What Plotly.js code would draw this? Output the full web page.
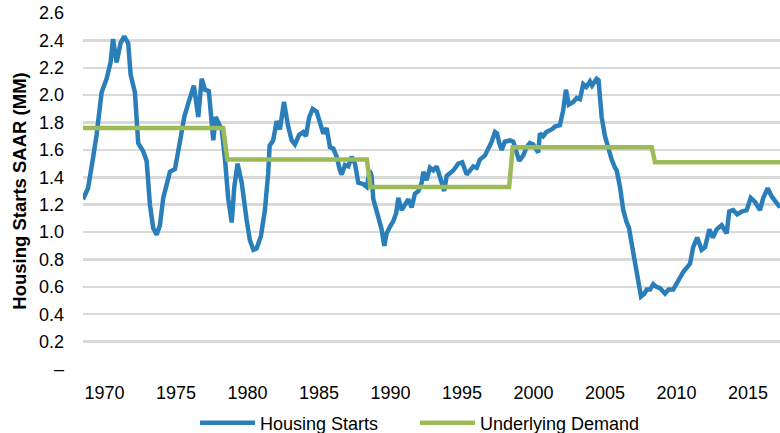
<!DOCTYPE html>
<html>
<head>
<meta charset="utf-8">
<script src="https://cdn.plot.ly/plotly-3.0.1.min.js"></script>
<style>
  html, body { margin: 0; padding: 0; background: #fff; }
  #chart { width: 780px; height: 433px; }
</style>
</head>
<body>
<div id="chart"></div>
<script>
// Housing starts (SAAR, millions), by decimal year
const startDates = [
  1968.5, 1968.85, 1969.2, 1969.45, 1969.8, 1970.15, 1970.43, 1970.6, 1970.85, 1971.13,
  1971.38, 1971.66, 1971.83, 1972.13, 1972.36, 1972.71, 1972.95, 1973.18, 1973.41, 1973.65,
  1973.88, 1974.11, 1974.58, 1974.93, 1975.28, 1975.58, 1975.86, 1976.25, 1976.56, 1976.8,
  1977.03, 1977.3, 1977.61, 1977.78, 1977.96, 1978.2, 1978.43, 1978.66, 1978.9, 1979.08,
  1979.31, 1979.6, 1979.94, 1980.17, 1980.41, 1980.64, 1980.94, 1981.22, 1981.45, 1981.55,
  1981.8, 1982.04, 1982.27, 1982.55, 1982.85, 1983.09, 1983.32, 1983.62, 1983.9, 1984.09,
  1984.32, 1984.56, 1984.84, 1985.07, 1985.3, 1985.54, 1985.77, 1986.0, 1986.24, 1986.47,
  1986.59, 1986.82, 1987.05, 1987.29, 1987.52, 1987.75, 1988.1, 1988.34, 1988.55, 1988.68,
  1988.8, 1989.15, 1989.38, 1989.57, 1989.73, 1989.97, 1990.2, 1990.4, 1990.55, 1990.78,
  1991.06, 1991.25, 1991.48, 1991.71, 1991.95, 1992.18, 1992.3, 1992.53, 1992.76, 1993.0,
  1993.23, 1993.46, 1993.76, 1993.93, 1994.16, 1994.39, 1994.74, 1995.02, 1995.33, 1995.56,
  1995.79, 1996.03, 1996.26, 1996.61, 1996.84, 1997.08, 1997.31, 1997.45, 1997.61, 1997.78,
  1998.0, 1998.36, 1998.59, 1998.83, 1999.0, 1999.29, 1999.52, 1999.75, 1999.99, 2000.33,
  2000.45, 2000.68, 2000.9, 2001.27, 2001.5, 2001.85, 2002.08, 2002.27, 2002.47, 2002.78,
  2003.02, 2003.25, 2003.48, 2003.7, 2003.95, 2004.1, 2004.42, 2004.55, 2004.77, 2005.0,
  2005.23, 2005.47, 2005.7, 2005.82, 2006.05, 2006.28, 2006.52, 2006.68, 2006.91, 2007.1,
  2007.33, 2007.52, 2007.75, 2007.92, 2008.15, 2008.38, 2008.6, 2008.85, 2009.2, 2009.45,
  2009.77, 2010.13, 2010.48, 2010.95, 2011.17, 2011.45, 2011.76, 2012.0, 2012.3, 2012.55,
  2012.81, 2013.16, 2013.51, 2013.69, 2013.97, 2014.25, 2014.56, 2014.91, 2015.19, 2015.49,
  2015.84, 2016.07, 2016.38, 2016.66, 2017.0, 2017.24
];
const starts = [
  1.24, 1.32, 1.54, 1.71, 2.02, 2.12, 2.24, 2.41, 2.24, 2.38,
  2.43, 2.38, 2.15, 2.02, 1.65, 1.59, 1.52, 1.20, 1.03, 0.98,
  1.05, 1.25, 1.44, 1.46, 1.66, 1.84, 1.94, 2.07, 1.84, 2.12,
  2.04, 2.03, 1.67, 1.84, 1.80, 1.75, 1.53, 1.24, 1.07, 1.33,
  1.50, 1.36, 1.09, 0.94, 0.87, 0.88, 0.97, 1.16, 1.43, 1.63,
  1.67, 1.81, 1.75, 1.95, 1.77, 1.67, 1.64, 1.71, 1.73, 1.70,
  1.84, 1.90, 1.88, 1.80, 1.72, 1.76, 1.62, 1.61, 1.55, 1.45,
  1.42, 1.49, 1.48, 1.55, 1.50, 1.36, 1.35, 1.33, 1.45, 1.41,
  1.24, 1.11, 1.02, 0.90, 0.99, 1.04, 1.08, 1.14, 1.25, 1.16,
  1.20, 1.24, 1.18, 1.28, 1.30, 1.36, 1.44, 1.38, 1.47, 1.45,
  1.48, 1.39, 1.30, 1.41, 1.43, 1.45, 1.50, 1.51, 1.42, 1.45,
  1.48, 1.47, 1.53, 1.56, 1.61, 1.66, 1.73, 1.72, 1.65, 1.60,
  1.66, 1.67, 1.66, 1.58, 1.52, 1.56, 1.62, 1.65, 1.64, 1.58,
  1.72, 1.70, 1.73, 1.75, 1.77, 1.78, 1.89, 2.04, 1.93, 1.95,
  1.98, 1.97, 2.08, 2.06, 2.10, 2.07, 2.12, 2.11, 1.84, 1.70,
  1.60, 1.53, 1.47, 1.45, 1.33, 1.16, 1.07, 1.03, 0.89, 0.77,
  0.60, 0.53, 0.55, 0.58, 0.58, 0.62, 0.60, 0.59, 0.55, 0.58,
  0.58, 0.65, 0.71, 0.77, 0.89, 0.96, 0.87, 0.89, 1.02, 0.96,
  1.02, 1.05, 0.99, 1.15, 1.16, 1.13, 1.15, 1.16, 1.25, 1.22,
  1.16, 1.25, 1.32, 1.26, 1.22, 1.18
];

// Underlying demand (decade levels)
const demandDates = [1968.5, 1978.3, 1978.6, 1988.35, 1988.6, 1998.3, 1998.55, 2008.27, 2008.5, 2017.24];
const demand      = [1.76,   1.76,   1.53,   1.53,    1.33,   1.33,   1.62,    1.62,    1.51,   1.51];

// Axis ticks
const yTickVals = [0, 0.2, 0.4, 0.6, 0.8, 1.0, 1.2, 1.4, 1.6, 1.8, 2.0, 2.2, 2.4, 2.6];
const yTickText = ['–', '0.2', '0.4', '0.6', '0.8', '1.0', '1.2', '1.4', '1.6', '1.8', '2.0', '2.2', '2.4', '2.6'];
const xTickVals = [1970, 1975, 1980, 1985, 1990, 1995, 2000, 2005, 2010, 2015];
const xTickText = ['1970', '1975', '1980', '1985', '1990', '1995', '2000', '2005', '2010', '2015'];

const FONT = 'Liberation Sans, Arial, sans-serif';

const traces = [
  {
    type: 'scatter', mode: 'lines', name: 'Housing Starts',
    x: startDates, y: starts, legend: 'legend',
    line: { color: '#2A7FBA', width: 4.5 }
  },
  {
    type: 'scatter', mode: 'lines', name: 'Underlying Demand',
    x: demandDates, y: demand, legend: 'legend2',
    line: { color: '#9BBB59', width: 4.5 }
  }
];

const legendCommon = {
  orientation: 'h', xref: 'container', yref: 'container',
  xanchor: 'left', yanchor: 'middle', y: 0.023,
  font: { family: FONT, size: 18, color: '#000000' },
  itemwidth: 55, bgcolor: 'rgba(0,0,0,0)', borderwidth: 0
};

const layout = {
  width: 780, height: 433,
  margin: { l: 83, r: 0, t: 13.3, b: 63.7, autoexpand: false },
  paper_bgcolor: '#ffffff', plot_bgcolor: '#ffffff',
  font: { family: FONT, size: 18, color: '#000000' },
  showlegend: true,
  legend: Object.assign({}, legendCommon, { x: 195 / 780 }),
  legend2: Object.assign({}, legendCommon, { x: 415 / 780 }),
  xaxis: {
    range: [1968.5, 2017.24],
    tickvals: xTickVals, ticktext: xTickText,
    showgrid: false, zeroline: false, showline: false, ticks: '',
    ticklabelstandoff: 11,
    tickfont: { family: FONT, size: 18, color: '#000000' },
    fixedrange: true
  },
  yaxis: {
    range: [0, 2.6],
    tickvals: yTickVals, ticktext: yTickText,
    showgrid: true, gridcolor: '#D9D9D9', gridwidth: 2.5,
    zeroline: false, showline: false, ticks: '',
    ticklabelstandoff: 18,
    tickfont: { family: FONT, size: 18, color: '#000000' },
    title: { text: 'Housing Starts SAAR (MM)', standoff: 7,
             font: { family: FONT, size: 18.5, color: '#000000', weight: 'bold' } },
    fixedrange: true
  }
};

Plotly.newPlot('chart', traces, layout, { displayModeBar: false, staticPlot: true });
</script>
</body>
</html>
